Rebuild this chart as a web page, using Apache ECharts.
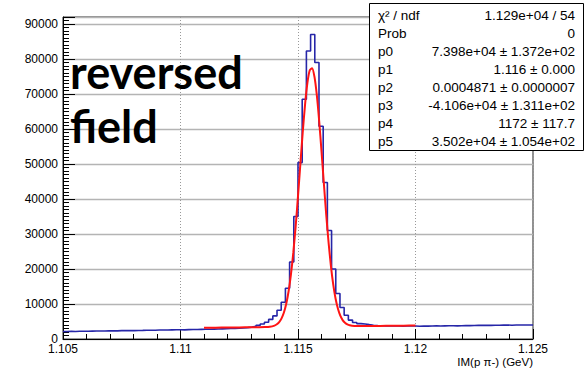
<!DOCTYPE html>
<html>
<head>
<meta charset="utf-8">
<script src="https://cdn.jsdelivr.net/npm/echarts@6.0.0/dist/echarts.min.js"></script>
<style>
  html, body { margin: 0; padding: 0; background: #ffffff; }
  #chart { width: 587px; height: 368px; }
</style>
</head>
<body>
<div id="chart"></div>
<script>
// Invariant-mass histogram of p pi- candidates (Lambda peak) with Gaussian + pol2 fit.
const histMin = 1.105;
const histMax = 1.125;

// Entries per bin (112 equal bins between histMin and histMax)
const binCounts = [
  2150, 2180, 2160, 2200, 2230, 2210, 2250, 2270, 2300, 2280,
  2320, 2350, 2330, 2380, 2400, 2420, 2390, 2450, 2470, 2500,
  2480, 2520, 2550, 2580, 2560, 2600, 2630, 2650, 2620, 2680,
  2700, 2720, 2750, 2780, 2800, 2830, 2860, 2900, 2930, 2980,
  3020, 3080, 3150, 3250, 3400, 3600, 3900, 4300, 4800, 5600,
  6600, 8200, 10500, 14500, 22000, 35000, 50400, 68500, 82300, 87000,
  79000, 60800, 44700, 31000, 20000, 13000, 9000, 6800, 5400, 4700,
  4400, 4300, 4100, 3950, 3850, 3800, 3750, 3720, 3700, 3700,
  3680, 3700, 3720, 3700, 3650, 3700, 3680, 3720, 3750, 3700,
  3760, 3780, 3800, 3760, 3800, 3850, 3820, 3860, 3900, 3880,
  3920, 3900, 3950, 3930, 3960, 3980, 3950, 4000, 3980, 4000,
  4020, 4000
];

// Fitted curve sampled over the fit range
const fitX = [
  1.1110, 1.1115, 1.1120, 1.1125, 1.1130, 1.1133, 1.1136, 1.1138, 1.1140, 1.1141,
  1.1142, 1.1143, 1.1144, 1.1145, 1.1146, 1.1147, 1.1148, 1.1149, 1.1150, 1.1151,
  1.1152, 1.1153, 1.1154, 1.1155, 1.1156, 1.1157, 1.1158, 1.1159, 1.1160, 1.1161,
  1.1162, 1.1163, 1.1164, 1.1165, 1.1166, 1.1167, 1.1168, 1.1169, 1.1170, 1.1171,
  1.1172, 1.1174, 1.1177, 1.1180, 1.1185, 1.1190, 1.1195, 1.1200
];
const fitY = [
  3200, 3236, 3272, 3308, 3345, 3370, 3410, 3500, 3830, 4200,
  4845, 5900, 7575, 10080, 13640, 18480, 24670, 32200, 40810, 49950,
  58950, 66970, 73150, 76770, 77390, 74950, 69740, 62360, 53670, 44510,
  35620, 27650, 20910, 15550, 11500, 8625, 6665, 5400, 4625, 4170,
  3920, 3725, 3690, 3705, 3741, 3777, 3813, 3850
];

// Fit statistics panel
const statNames = ['\u03c7\u00b2 / ndf', 'Prob', 'p0', 'p1', 'p2', 'p3', 'p4', 'p5'];
const statValues = [
  '1.129e+04 / 54', '0',
  '7.398e+04 \u00b1 1.372e+02',
  '1.116 \u00b1 0.000',
  '0.0004871 \u00b1 0.0000007',
  '-4.106e+04 \u00b1 1.311e+02',
  '1172 \u00b1 117.7',
  '3.502e+04 \u00b1 1.054e+02'
];

const xTitle = 'IM(p \u03c0-) (GeV)';
const noteLines = ['reversed', 'field'];

const binWidth = (histMax - histMin) / binCounts.length;
const histPoints = binCounts.map((v, i) => [histMin + i * binWidth, v]);
histPoints.push([histMax, binCounts[binCounts.length - 1]]);
const fitPoints = fitX.map((x, i) => [x, fitY[i]]);

const FONT = '"Liberation Sans", Arial, Helvetica, sans-serif';

const statGraphics = [];
const boxX = 369, boxY = 3, boxW = 214, boxH = 147, rowH = 18;
statGraphics.push({
  type: 'rect', left: boxX, top: boxY, z: 100,
  shape: { width: boxW, height: boxH },
  style: { fill: '#ffffff', stroke: '#000000', lineWidth: 1 }
});
statNames.forEach((name, i) => {
  const cy = boxY + 12 + i * rowH;
  statGraphics.push({
    type: 'text', z: 101, x: boxX + 9, y: cy,
    style: { text: name, font: '13.5px ' + FONT, fill: '#000', textAlign: 'left', textVerticalAlign: 'middle' }
  });
  statGraphics.push({
    type: 'text', z: 101, x: boxX + boxW - 8, y: cy,
    style: { text: statValues[i], font: '13.5px ' + FONT, fill: '#000', textAlign: 'right', textVerticalAlign: 'middle' }
  });
});

const chart = echarts.init(document.getElementById('chart'), null, { renderer: 'svg' });
chart.setOption({
  animation: false,
  backgroundColor: '#ffffff',
  grid: {
    left: 63, right: 54, top: 17, bottom: 29,
    show: true, borderColor: '#222', borderWidth: 1, backgroundColor: 'transparent'
  },
  xAxis: {
    type: 'value', min: histMin, max: histMax, interval: 0.005,
    axisLine: { show: true, lineStyle: { color: '#000', width: 1 } },
    axisTick: { show: true, inside: true, length: 10, lineStyle: { color: '#000' } },
    minorTick: { show: true, splitNumber: 5, length: 5, lineStyle: { color: '#000' } },
    splitLine: { show: true, lineStyle: { color: '#999', type: [1, 2], width: 1 } },
    axisLabel: {
      color: '#000', fontFamily: FONT, fontSize: 12, margin: 4,
      formatter: v => String(Number(v.toFixed(3)))
    }
  },
  yAxis: {
    type: 'value', min: 0, max: 92000, interval: 10000,
    axisLine: { show: true, lineStyle: { color: '#000', width: 1 } },
    axisTick: { show: true, inside: true, length: 12, lineStyle: { color: '#000' } },
    minorTick: { show: true, splitNumber: 10, length: 6, lineStyle: { color: '#000' } },
    splitLine: { show: true, lineStyle: { color: '#b4b4b4', width: 1.3 } },
    axisLabel: {
      color: '#000', fontFamily: FONT, fontSize: 12, margin: 5, showMaxLabel: false,
      formatter: v => String(v)
    }
  },
  series: [
    {
      type: 'line', data: histPoints, step: 'end', showSymbol: false, z: 3,
      lineStyle: { color: '#2626a8', width: 1.6 }
    },
    {
      type: 'line', data: fitPoints, smooth: 0.25, showSymbol: false, z: 4,
      lineStyle: { color: '#ff1414', width: 2 }
    }
  ],
  graphic: [
    {
      type: 'text', z: 50, x: 70, y: 72,
      style: { text: noteLines[0], font: 'bold 45px Lato, sans-serif', fill: '#000', textAlign: 'left', textVerticalAlign: 'middle' }
    },
    {
      type: 'text', z: 50, x: 70, y: 126,
      style: { text: noteLines[1], font: 'bold 45px Lato, sans-serif', fill: '#000', textAlign: 'left', textVerticalAlign: 'middle' }
    },
    {
      type: 'text', z: 50, x: 533, y: 362,
      style: { text: xTitle, font: '11.5px ' + FONT, fill: '#000', textAlign: 'right', textVerticalAlign: 'middle' }
    }
  ].concat(statGraphics)
});
</script>
</body>
</html>
